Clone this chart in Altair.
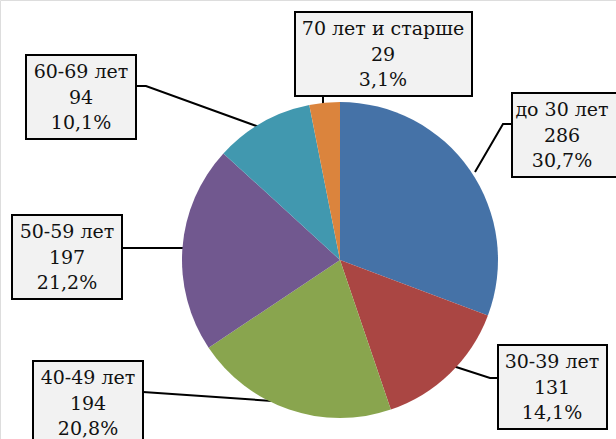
import altair as alt
import pandas as pd

# ---- data ----
categories = ["до 30 лет", "30-39 лет", "40-49 лет", "50-59 лет", "60-69 лет", "70 лет и старше"]
counts = [286, 131, 194, 197, 94, 29]
percent_labels = ["30,7%", "14,1%", "20,8%", "21,2%", "10,1%", "3,1%"]
colors = ["#4572A7", "#AA4643", "#89A54E", "#71588F", "#4198AF", "#DB843D"]

# ---- layout (pixel positions of label boxes and leader lines) ----
box_left = [512, 498, 33, 12, 26, 295]
box_top = [93, 345, 361, 215, 55, 12]
box_right = [640, 607, 143, 122, 136, 472]
box_height = 84
leader_x = [[512, 503, 475], [498, 490, 453], [143, 287], [122, 183], [136, 146, 262], [323, 323]]
leader_y = [[124, 124, 172], [378, 378, 366], [392, 402], [248, 248], [86, 86, 128], [95, 110]]
text_center_x = [562, 552, 88, 67, 81, 383]
CX, CY, R = 340, 260, 158
W, H = 616, 439

pie_df = pd.DataFrame({"category": categories, "value": counts, "idx": list(range(len(categories)))})

box_df = pd.DataFrame({
    "x0": box_left, "x1": box_right,
    "y0": box_top, "y1": [t + box_height for t in box_top],
})

line_rows = []
for i, (xs, ys) in enumerate(zip(leader_x, leader_y)):
    for j, (x, y) in enumerate(zip(xs, ys)):
        line_rows.append({"id": i, "ord": j, "x": x, "y": y})
line_df = pd.DataFrame(line_rows)

text_rows = []
for i, cat in enumerate(categories):
    lines = [cat, str(counts[i]), percent_labels[i]]
    for j, t in enumerate(lines):
        text_rows.append({"x": text_center_x[i], "y": box_top[i] + 17 + 25.5 * j, "t": t})
text_df = pd.DataFrame(text_rows)

xs = alt.Scale(domain=[0, W], nice=False, zero=False)
ys = alt.Scale(domain=[0, H], nice=False, zero=False, reverse=True)

pie = alt.Chart(pie_df).mark_arc(outerRadius=R).encode(
    theta=alt.Theta("value:Q", stack=True),
    color=alt.Color("category:N", scale=alt.Scale(domain=categories, range=colors), legend=None),
    order=alt.Order("idx:Q"),
    x=alt.value(CX),
    y=alt.value(CY),
)

leaders = alt.Chart(line_df).mark_line(color="black", strokeWidth=2).encode(
    x=alt.X("x:Q", scale=xs, axis=None),
    y=alt.Y("y:Q", scale=ys, axis=None),
    detail="id:N",
    order="ord:Q",
)

boxes = alt.Chart(box_df).mark_rect(fill="#F2F2F2", stroke="black", strokeWidth=2).encode(
    x=alt.X("x0:Q", scale=xs, axis=None), x2="x1:Q",
    y=alt.Y("y0:Q", scale=ys, axis=None), y2="y1:Q",
)

texts = alt.Chart(text_df).mark_text(
    font="DejaVu Serif", fontSize=19, color="#111111",
    align="center", baseline="middle"
).encode(
    x=alt.X("x:Q", scale=xs, axis=None),
    y=alt.Y("y:Q", scale=ys, axis=None),
    text="t:N",
)

chart = alt.layer(leaders, pie, boxes, texts).properties(
    width=W, height=H, autosize=alt.AutoSizeParams(type="none"), padding=0
).configure_view(stroke=None).configure(background="white")

chart.save("out.html", embed_options={"renderer": "svg", "actions": False})
